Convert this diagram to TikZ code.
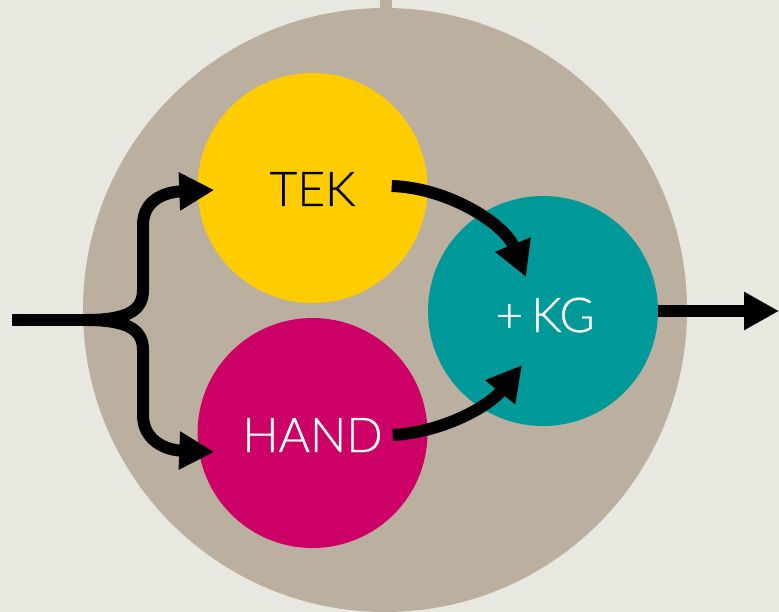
\documentclass[tikz,border=0pt]{standalone}
\usepackage{fontspec}
\setmainfont{Lato Light}[FakeBold=0.6]
\usetikzlibrary{arrows.meta}
\definecolor{bgc}{HTML}{E8E7E0}
\definecolor{tanc}{HTML}{BBB0A0}
\definecolor{yelc}{HTML}{FFCC00}
\definecolor{magc}{HTML}{CC0066}
\definecolor{teac}{HTML}{009999}
\tikzset{
  disc/.style={circle, inner sep=0pt, minimum size=230pt, draw=none},
  lbl/.style={anchor=base, inner sep=0pt, font=\fontsize{48}{58}\selectfont},
  flow/.style={line width=12pt, draw=black, -{Triangle[length=35pt,width=36pt]}},
  plain/.style={line width=12pt, draw=black},
}
\begin{document}
\begin{tikzpicture}[x=1pt,y=-1pt]
\fill[bgc] (0,0) rectangle (779,612);
\useasboundingbox (0,0) rectangle (779,612);
\fill[tanc] (380,0) rectangle (392,40);
\node[circle, inner sep=0pt, minimum size=604pt, fill=tanc] (big) at (385,310) {};
\node[disc, fill=yelc] (tek) at (312.5,188) {};
\node[disc, fill=magc] (hand) at (312.5,433) {};
\node[disc, fill=teac] (kg) at (543,311) {};
\node[lbl, text=black] (tekl) at (312.5,206) {TEK};
\node[lbl, text=white] (handl) at (312.5,452) {HAND};
\node[lbl, text=white] (kgl) at (545,332) {+\,KG};
\coordinate (in) at (12,320);
\coordinate (split) at (85,320);
\coordinate (out) at (779,311);
% input and branches
\draw[plain] (in) -- (split);
\draw[flow] (split) .. controls (125,320) and (143,312) .. (143,290)
  -- (143,225) .. controls (143,200) and (165,192) .. ([xshift=17pt]tek.west |- 0,190);
\draw[flow] (split) .. controls (125,320) and (143,328) .. (143,350)
  -- (143,415) .. controls (143,440) and (165,450) .. ([xshift=17pt]hand.west |- 0,452);
% into KG
\draw[flow] ([xshift=-36pt]tek.east |- 0,186) .. controls (450,188) and (505,225) .. (526,277);
\draw[flow] ([xshift=-35pt]hand.east |- 0,435) .. controls (445,432) and (490,405) .. (522,365);
% output
\draw[flow] (kg.east) -- (out);
\end{tikzpicture}
\end{document}
